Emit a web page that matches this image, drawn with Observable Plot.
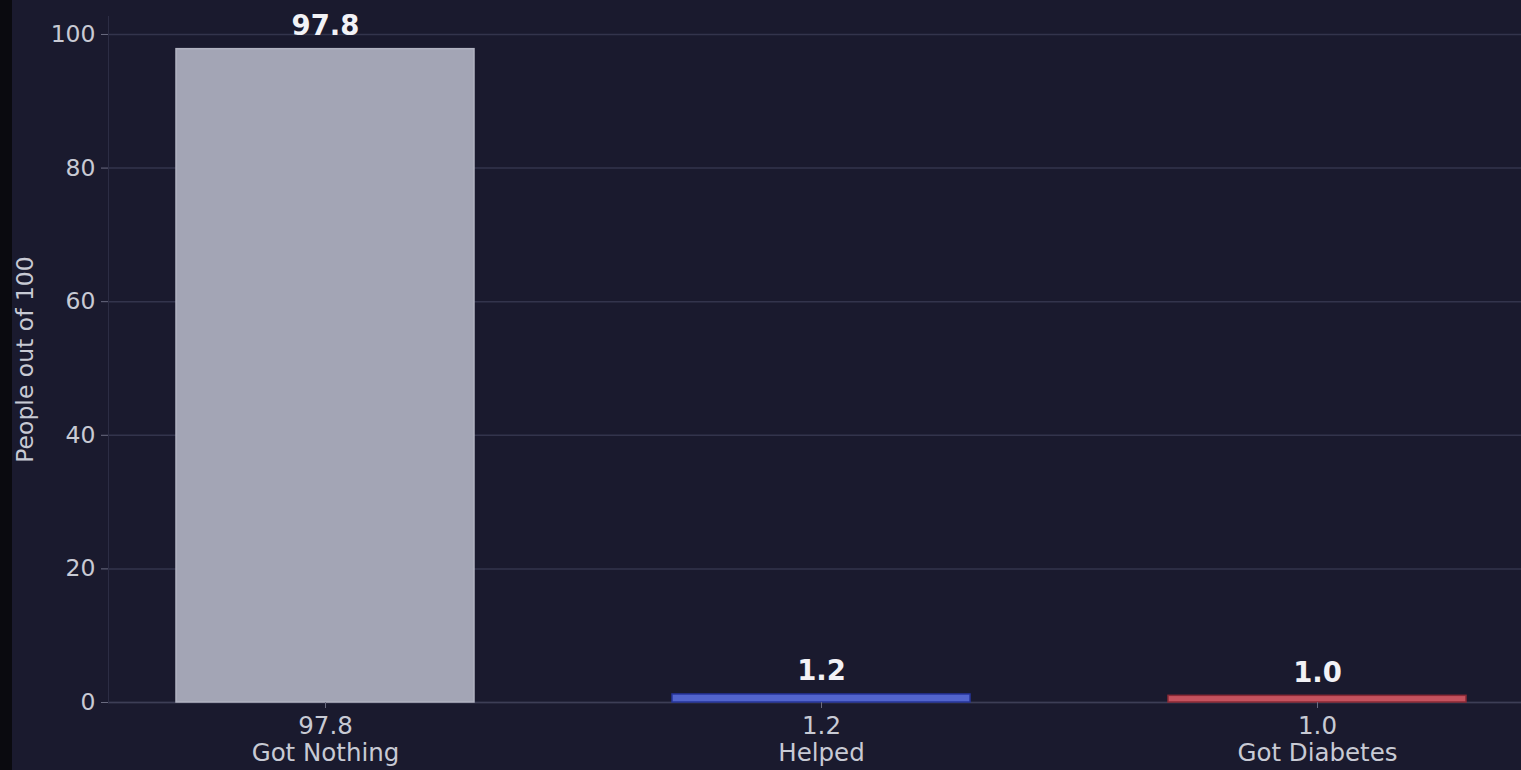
<!DOCTYPE html>
<html>
<head>
<meta charset="utf-8">
<script src="https://cdn.jsdelivr.net/npm/d3@7"></script>
<script src="https://cdn.jsdelivr.net/npm/@observablehq/plot@0.6"></script>
<style>
  html, body { margin: 0; padding: 0; background: #1a1a2e; overflow: hidden; }
  #wrap { position: relative; width: 1521px; height: 770px; }
  #strip { position: absolute; left: 0; top: 0; width: 12px; height: 770px; background: #0a0a0f; z-index: 2; }
</style>
</head>
<body>
<div id="wrap"><div id="strip"></div><div id="chart"></div></div>
<script>
const categories = ["Got Nothing", "Helped", "Got Diabetes"];
const values = [97.8, 1.2, 1.0];
const barColors = ["#a3a5b5", "#5264cc", "#c4525e"];
const barEdges = ["#b2b4c2", "#26359a", "#8a2a36"];
const yTicks = [0, 20, 40, 60, 80, 100];
const yLabel = "People out of 100";

const data = categories.map((c, i) => ({category: c, value: values[i], edge: barEdges[i]}));
const valueOf = new Map(data.map(d => [d.category, d.value]));

const chart = Plot.plot({
  width: 1521,
  height: 770,
  marginLeft: 108,
  marginRight: 0,
  marginTop: 16,
  marginBottom: 68,
  style: {background: "#1a1a2e", fontFamily: "DejaVu Sans", color: "#c8cad4"},
  x: {domain: categories, paddingInner: 0.4, paddingOuter: 0.1216, align: 0.55},
  y: {domain: [0, 102.69]},
  color: {domain: categories, range: barColors},
  marks: [
    Plot.gridY(yTicks, {stroke: "#33344c", strokeOpacity: 1, strokeWidth: 1.5}),
    Plot.ruleY([0], {stroke: "#3d3e56", strokeWidth: 1.5}),
    Plot.frame({anchor: "left", stroke: "#2c2d44"}),
    Plot.barY(data, {x: "category", y: "value", fill: "category", stroke: d => d.edge, strokeWidth: 1.5}),
    Plot.text(data, {x: "category", y: "value", text: d => d.value.toFixed(1), dy: -14, lineAnchor: "bottom", fontWeight: "bold", fontSize: 27.5, fill: "#f2f2f6"}),
    Plot.axisY({ticks: yTicks, tickSize: 7, tickPadding: 6, fontSize: 23.5, stroke: "#6a6b80", fill: "#c8cad4",
      label: yLabel, labelAnchor: "center", labelArrow: "none", labelOffset: 92}),
    Plot.axisX({tickSize: 6, tickPadding: 6, fontSize: 24.5, lineHeight: 1.1, stroke: "#6a6b80", fill: "#c8cad4",
      tickFormat: d => `${valueOf.get(d).toFixed(1)}\n${d}`, label: null})
  ]
});
document.getElementById("chart").appendChild(chart);
</script>
</body>
</html>
